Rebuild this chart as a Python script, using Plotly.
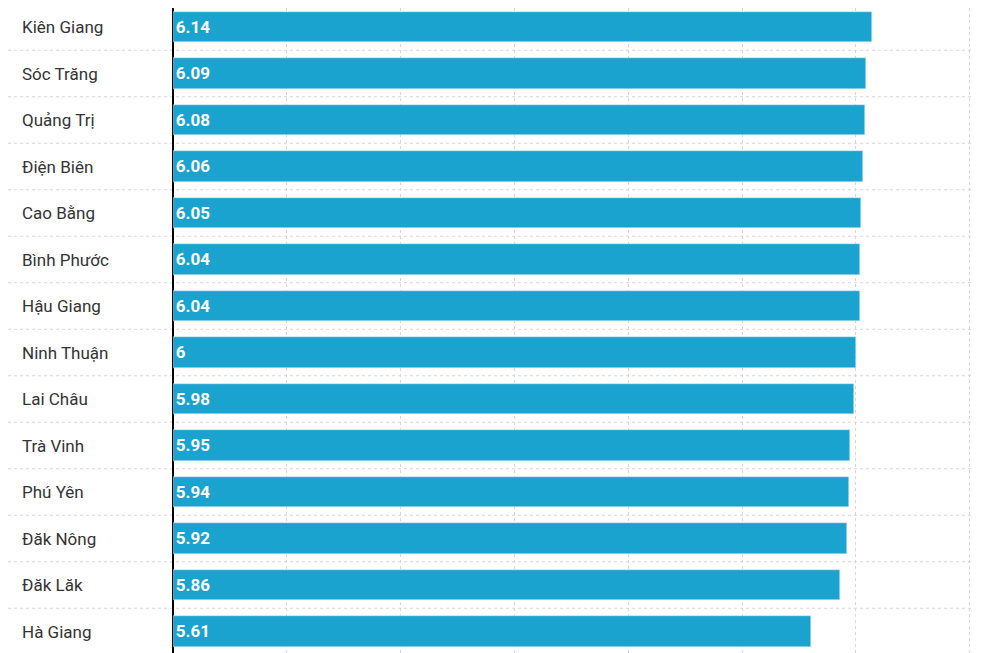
import plotly.graph_objects as go

provinces = ["Kiên Giang","Sóc Trăng","Quảng Trị","Điện Biên","Cao Bằng","Bình Phước","Hậu Giang",
             "Ninh Thuận","Lai Châu","Trà Vinh","Phú Yên","Đăk Nông","Đăk Lăk","Hà Giang"]
scores = [6.14,6.09,6.08,6.06,6.05,6.04,6.04,6.0,5.98,5.95,5.94,5.92,5.86,5.61]
labels = ["6.14","6.09","6.08","6.06","6.05","6.04","6.04","6","5.98","5.95","5.94","5.92","5.86","5.61"]

W, H = 982, 653
OFF = 8
L = 173 - OFF
PW = W - L
ROW = 46.5
top = -(27 - OFF) / ROW
fig = go.Figure(go.Bar(
    x=scores, y=list(range(len(provinces))), orientation="h",
    marker_color="#1aa3cf", width=0.65,
    text=labels, textposition="inside", insidetextanchor="start",
    textfont=dict(color="white", size=17, family="Roboto", weight="bold"),
    hoverinfo="skip",
))
shapes = []
for i in range(-1, len(provinces)):
    shapes.append(dict(type="line", xref="paper", yref="y", x0=-L/PW, x1=(975-173)/PW,
                       y0=i+0.5, y1=i+0.5, line=dict(color="#d6d6d6", width=1, dash="dot"), layer="below"))
annotations = [dict(xref="paper", yref="y", x=-(L-(20-OFF))/PW, y=i, text=p, showarrow=False,
                    xanchor="left", font=dict(size=17, family="Roboto", color="#333"))
               for i, p in enumerate(provinces)]
fig.update_layout(
    width=W, height=H, margin=dict(l=L, r=0, t=0, b=0),
    plot_bgcolor="white", paper_bgcolor="white", showlegend=False,
    shapes=shapes, annotations=annotations, bargap=0,
    xaxis=dict(range=[0, PW/113.8], dtick=1, showticklabels=False,
               showgrid=True, gridcolor="#d6d6d6", griddash="dot",
               zeroline=True, zerolinecolor="black", zerolinewidth=2),
    yaxis=dict(range=[top + H/ROW, top], showticklabels=False, showgrid=False, zeroline=False),
)
fig.write_html("out.html")
